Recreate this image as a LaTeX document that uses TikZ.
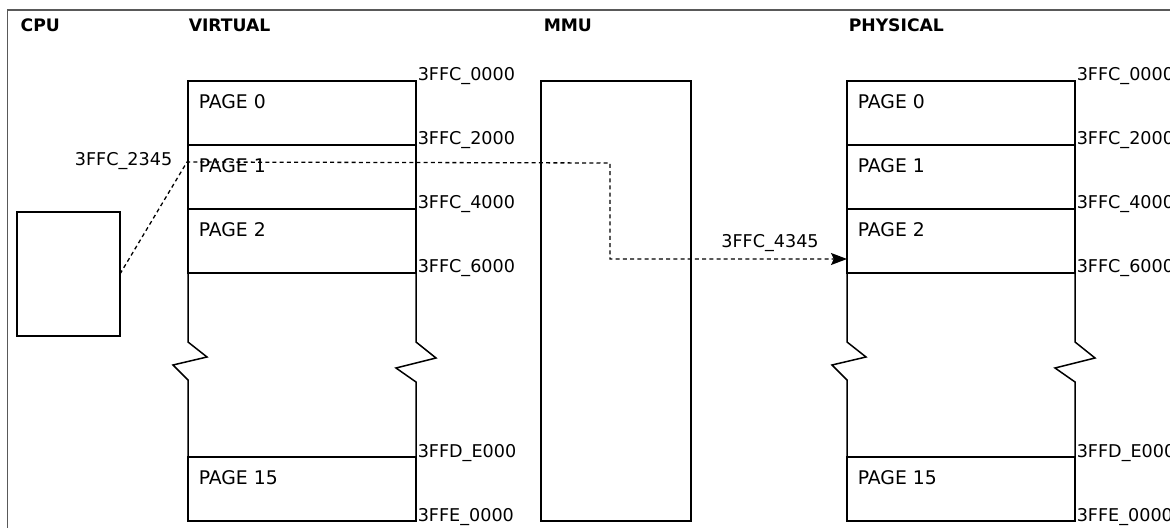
\documentclass[tikz,border=0pt]{standalone}
\usepackage{fontspec}
\setmainfont{DejaVu Sans}
\usetikzlibrary{arrows.meta, positioning}

\begin{document}
\begin{tikzpicture}[
  x=0.5pt, y=-0.5pt, line width=0.75pt,
  cell/.style={draw, anchor=north west, outer sep=0pt, inner sep=0pt,
    minimum width=114pt, minimum height=32pt},
  box/.style={draw, anchor=north west, outer sep=0pt, inner sep=0pt},
  pagetext/.style={anchor=west, inner sep=0pt, font=\fontsize{9.4}{11}\selectfont},
  addr/.style={anchor=base west, inner sep=0pt, font=\fontsize{8.8}{10}\selectfont},
  head/.style={anchor=west, inner sep=0pt, font=\fontsize{8.6}{10}\selectfont\bfseries},
  link/.style={dash pattern=on 2pt off 1.6pt, line width=0.65pt},
]
  \useasboundingbox (0,0) rectangle (1170,528);
  \clip (0,0) rectangle (1170,528);
  % outer frame
  \draw[black!65, line width=0.6pt] (7.5,10) rectangle (1200,560);

  % headers
  \node[head] (hcpu)  at (20,25)  {CPU};
  \node[head] (hvirt) at (188,25) {VIRTUAL};
  \node[head] (hmmu)  at (543,25) {MMU};
  \node[head] (hphys) at (848,25) {PHYSICAL};

  % cpu and mmu
  \node[box, minimum width=51.5pt, minimum height=62pt] (cpu) at (17,212) {};
  \node[box, minimum width=75pt, minimum height=220pt] (mmu) at (541,81) {};

  % memory columns
  \foreach \col/\x in {v/188, p/847} {
    \node[cell] (\col0)  at (\x,81) {};
    \node[cell, below=0pt of \col0] (\col1) {};
    \node[cell, below=0pt of \col1] (\col2) {};
    \node[cell] (\col15) at (\x,457) {};
    % broken middle part
    \draw (\col2.south west) -- ++(0,69) -- ++(19,15) -- ++(-34,8) -- ++(15,15)
      -- (\col15.north west);
    \draw (\col2.south east) -- ++(0,69) -- ++(20,16) -- ++(-40,10) -- ++(20,14)
      -- (\col15.north east);
    % page names
    \node[pagetext] at ([shift={(10,21)}]\col0.north west)  {PAGE 0};
    \node[pagetext] at ([shift={(10,21)}]\col1.north west)  {PAGE 1};
    \node[pagetext] at ([shift={(10,21)}]\col2.north west)  {PAGE 2};
    \node[pagetext] at ([shift={(10,21)}]\col15.north west) {PAGE 15};
    % addresses
    \node[addr] at ([shift={(1,0)}]\col0.north east)  {3FFC\_0000};
    \node[addr] at ([shift={(1,0)}]\col1.north east)  {3FFC\_2000};
    \node[addr] at ([shift={(1,0)}]\col2.north east)  {3FFC\_4000};
    \node[addr] at ([shift={(1,0)}]\col2.south east)  {3FFC\_6000};
    \node[addr] at ([shift={(1,0)}]\col15.north east) {3FFD\_E000};
    \node[addr] at ([shift={(1,0)}]\col15.south east) {3FFE\_0000};
  }

  % translation path
  \coordinate (va)   at ([shift={(-1,17)}]v1.north west);
  \coordinate (bend) at (610,163);
  \coordinate (pa)   at ([shift={(0,18)}]p2.west);
  \draw[link, -{Stealth[length=8pt, width=6pt, inset=1.4pt]}]
    (cpu.east) -- (va) -- (bend) |- (pa);
  \node[addr, anchor=east] (vaddr) at (173,161) {3FFC\_2345};
  \node[addr, anchor=center] (paddr) at (770,243) {3FFC\_4345};
\end{tikzpicture}
\end{document}
